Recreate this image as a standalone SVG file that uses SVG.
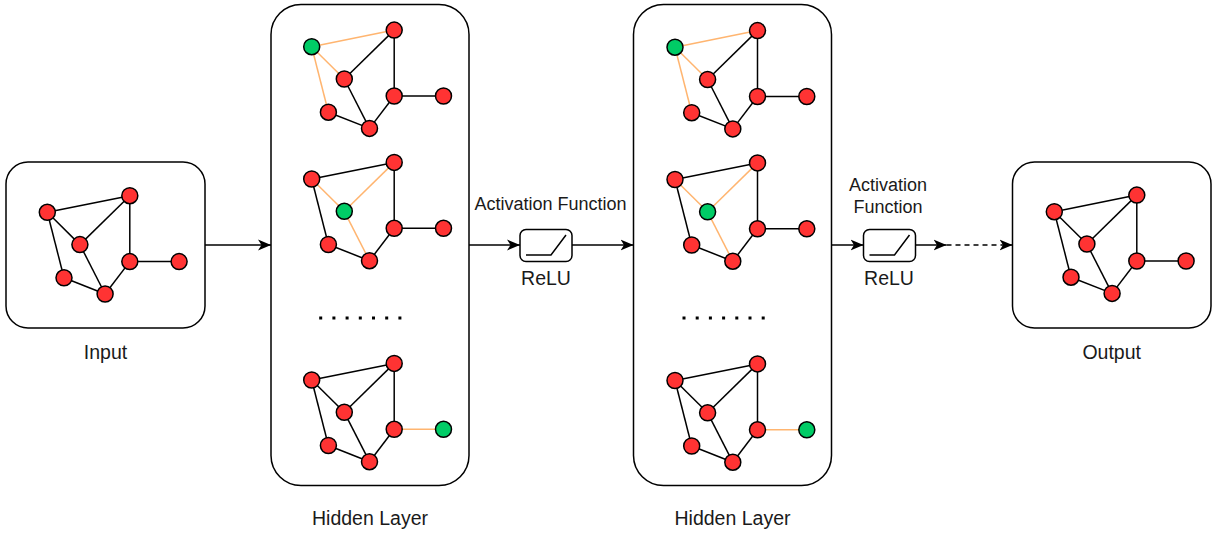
<svg xmlns="http://www.w3.org/2000/svg" width="1225" height="536" viewBox="0 0 1225 536">
<style>
.box{fill:#fff;stroke:#000;stroke-width:1.5}
.e{stroke:#000;stroke-width:1.5;fill:none}
.o{stroke:#FFB570;stroke-width:1.5;fill:none}
.r{fill:#FF3333;stroke:#000;stroke-width:1.5}
.g{fill:#00CC66;stroke:#000;stroke-width:1.5}
.lbl{font-family:"Liberation Sans",Arial,sans-serif;font-size:19.5px;fill:#1a1a1a;text-anchor:middle}
.act{font-family:"Liberation Sans",Arial,sans-serif;font-size:18px;fill:#1a1a1a;text-anchor:middle}
.conn{stroke:#000;stroke-width:1.5;fill:none}
.dot{fill:#000}
</style>
<defs>
<marker id="arr" markerUnits="userSpaceOnUse" markerWidth="14" markerHeight="13" refX="13" refY="6" orient="auto">
<path d="M0,0.5 L13,6 L0,11.5 L3.5,6 Z" fill="#000"/>
</marker>
</defs>

<g id="input">
<rect class="box" x="6" y="162" width="199" height="166" rx="22"/>
<g transform="translate(47.3,212.3)">
<line class="e" x1="0" y1="0" x2="82.5" y2="-16.6"/>
<line class="e" x1="0" y1="0" x2="32.6" y2="32.3"/>
<line class="e" x1="0" y1="0" x2="16.7" y2="65.5"/>
<line class="e" x1="32.6" y1="32.3" x2="82.5" y2="-16.6"/>
<line class="e" x1="32.6" y1="32.3" x2="57.8" y2="81.7"/>
<line class="e" x1="82.5" y1="-16.6" x2="82.5" y2="49.3"/>
<line class="e" x1="82.5" y1="49.3" x2="131.8" y2="49.3"/>
<line class="e" x1="82.5" y1="49.3" x2="57.8" y2="81.7"/>
<line class="e" x1="16.7" y1="65.5" x2="57.8" y2="81.7"/>
<circle class="r" cx="0" cy="0" r="8"/>
<circle class="r" cx="82.5" cy="-16.6" r="8"/>
<circle class="r" cx="32.6" cy="32.3" r="8"/>
<circle class="r" cx="82.5" cy="49.3" r="8"/>
<circle class="r" cx="131.8" cy="49.3" r="8"/>
<circle class="r" cx="16.7" cy="65.5" r="8"/>
<circle class="r" cx="57.8" cy="81.7" r="8"/>
</g>
<text class="lbl" x="105.5" y="359">Input</text>
</g>

<g id="hidden1">
<rect class="box" x="271" y="4.5" width="198" height="481" rx="30"/>
<g transform="translate(311.7,46.7)">
<line class="o" x1="0" y1="0" x2="82.5" y2="-16.6"/>
<line class="o" x1="0" y1="0" x2="32.6" y2="32.3"/>
<line class="o" x1="0" y1="0" x2="16.7" y2="65.5"/>
<line class="e" x1="32.6" y1="32.3" x2="82.5" y2="-16.6"/>
<line class="e" x1="32.6" y1="32.3" x2="57.8" y2="81.7"/>
<line class="e" x1="82.5" y1="-16.6" x2="82.5" y2="49.3"/>
<line class="e" x1="82.5" y1="49.3" x2="131.8" y2="49.3"/>
<line class="e" x1="82.5" y1="49.3" x2="57.8" y2="81.7"/>
<line class="e" x1="16.7" y1="65.5" x2="57.8" y2="81.7"/>
<circle class="g" cx="0" cy="0" r="8"/>
<circle class="r" cx="82.5" cy="-16.6" r="8"/>
<circle class="r" cx="32.6" cy="32.3" r="8"/>
<circle class="r" cx="82.5" cy="49.3" r="8"/>
<circle class="r" cx="131.8" cy="49.3" r="8"/>
<circle class="r" cx="16.7" cy="65.5" r="8"/>
<circle class="r" cx="57.8" cy="81.7" r="8"/>
</g>
<g transform="translate(311.7,179)">
<line class="e" x1="0" y1="0" x2="82.5" y2="-16.6"/>
<line class="o" x1="0" y1="0" x2="32.6" y2="32.3"/>
<line class="e" x1="0" y1="0" x2="16.7" y2="65.5"/>
<line class="o" x1="32.6" y1="32.3" x2="82.5" y2="-16.6"/>
<line class="o" x1="32.6" y1="32.3" x2="57.8" y2="81.7"/>
<line class="e" x1="82.5" y1="-16.6" x2="82.5" y2="49.3"/>
<line class="e" x1="82.5" y1="49.3" x2="131.8" y2="49.3"/>
<line class="e" x1="82.5" y1="49.3" x2="57.8" y2="81.7"/>
<line class="e" x1="16.7" y1="65.5" x2="57.8" y2="81.7"/>
<circle class="r" cx="0" cy="0" r="8"/>
<circle class="r" cx="82.5" cy="-16.6" r="8"/>
<circle class="g" cx="32.6" cy="32.3" r="8"/>
<circle class="r" cx="82.5" cy="49.3" r="8"/>
<circle class="r" cx="131.8" cy="49.3" r="8"/>
<circle class="r" cx="16.7" cy="65.5" r="8"/>
<circle class="r" cx="57.8" cy="81.7" r="8"/>
</g>
<g>
<rect class="dot" x="319.2" y="316.5" width="3" height="3"/>
<rect class="dot" x="332.4" y="316.5" width="3" height="3"/>
<rect class="dot" x="345.6" y="316.5" width="3" height="3"/>
<rect class="dot" x="358.8" y="316.5" width="3" height="3"/>
<rect class="dot" x="372" y="316.5" width="3" height="3"/>
<rect class="dot" x="385.2" y="316.5" width="3" height="3"/>
<rect class="dot" x="398.4" y="316.5" width="3" height="3"/>
</g>
<g transform="translate(311.7,380)">
<line class="e" x1="0" y1="0" x2="82.5" y2="-16.6"/>
<line class="e" x1="0" y1="0" x2="32.6" y2="32.3"/>
<line class="e" x1="0" y1="0" x2="16.7" y2="65.5"/>
<line class="e" x1="32.6" y1="32.3" x2="82.5" y2="-16.6"/>
<line class="e" x1="32.6" y1="32.3" x2="57.8" y2="81.7"/>
<line class="e" x1="82.5" y1="-16.6" x2="82.5" y2="49.3"/>
<line class="o" x1="82.5" y1="49.3" x2="131.8" y2="49.3"/>
<line class="e" x1="82.5" y1="49.3" x2="57.8" y2="81.7"/>
<line class="e" x1="16.7" y1="65.5" x2="57.8" y2="81.7"/>
<circle class="r" cx="0" cy="0" r="8"/>
<circle class="r" cx="82.5" cy="-16.6" r="8"/>
<circle class="r" cx="32.6" cy="32.3" r="8"/>
<circle class="r" cx="82.5" cy="49.3" r="8"/>
<circle class="g" cx="131.8" cy="49.3" r="8"/>
<circle class="r" cx="16.7" cy="65.5" r="8"/>
<circle class="r" cx="57.8" cy="81.7" r="8"/>
</g>
<text class="lbl" x="370" y="525">Hidden Layer</text>
</g>

<g id="hidden2">
<rect class="box" x="633.5" y="4.5" width="198" height="481" rx="30"/>
<g transform="translate(675,47.2)">
<line class="o" x1="0" y1="0" x2="82.5" y2="-16.6"/>
<line class="o" x1="0" y1="0" x2="32.6" y2="32.3"/>
<line class="o" x1="0" y1="0" x2="16.7" y2="65.5"/>
<line class="e" x1="32.6" y1="32.3" x2="82.5" y2="-16.6"/>
<line class="e" x1="32.6" y1="32.3" x2="57.8" y2="81.7"/>
<line class="e" x1="82.5" y1="-16.6" x2="82.5" y2="49.3"/>
<line class="e" x1="82.5" y1="49.3" x2="131.8" y2="49.3"/>
<line class="e" x1="82.5" y1="49.3" x2="57.8" y2="81.7"/>
<line class="e" x1="16.7" y1="65.5" x2="57.8" y2="81.7"/>
<circle class="g" cx="0" cy="0" r="8"/>
<circle class="r" cx="82.5" cy="-16.6" r="8"/>
<circle class="r" cx="32.6" cy="32.3" r="8"/>
<circle class="r" cx="82.5" cy="49.3" r="8"/>
<circle class="r" cx="131.8" cy="49.3" r="8"/>
<circle class="r" cx="16.7" cy="65.5" r="8"/>
<circle class="r" cx="57.8" cy="81.7" r="8"/>
</g>
<g transform="translate(675,179.5)">
<line class="e" x1="0" y1="0" x2="82.5" y2="-16.6"/>
<line class="o" x1="0" y1="0" x2="32.6" y2="32.3"/>
<line class="e" x1="0" y1="0" x2="16.7" y2="65.5"/>
<line class="o" x1="32.6" y1="32.3" x2="82.5" y2="-16.6"/>
<line class="o" x1="32.6" y1="32.3" x2="57.8" y2="81.7"/>
<line class="e" x1="82.5" y1="-16.6" x2="82.5" y2="49.3"/>
<line class="e" x1="82.5" y1="49.3" x2="131.8" y2="49.3"/>
<line class="e" x1="82.5" y1="49.3" x2="57.8" y2="81.7"/>
<line class="e" x1="16.7" y1="65.5" x2="57.8" y2="81.7"/>
<circle class="r" cx="0" cy="0" r="8"/>
<circle class="r" cx="82.5" cy="-16.6" r="8"/>
<circle class="g" cx="32.6" cy="32.3" r="8"/>
<circle class="r" cx="82.5" cy="49.3" r="8"/>
<circle class="r" cx="131.8" cy="49.3" r="8"/>
<circle class="r" cx="16.7" cy="65.5" r="8"/>
<circle class="r" cx="57.8" cy="81.7" r="8"/>
</g>
<g>
<rect class="dot" x="682.5" y="316.5" width="3" height="3"/>
<rect class="dot" x="695.7" y="316.5" width="3" height="3"/>
<rect class="dot" x="708.9" y="316.5" width="3" height="3"/>
<rect class="dot" x="722.1" y="316.5" width="3" height="3"/>
<rect class="dot" x="735.3" y="316.5" width="3" height="3"/>
<rect class="dot" x="748.5" y="316.5" width="3" height="3"/>
<rect class="dot" x="761.7" y="316.5" width="3" height="3"/>
</g>
<g transform="translate(675,380.5)">
<line class="e" x1="0" y1="0" x2="82.5" y2="-16.6"/>
<line class="e" x1="0" y1="0" x2="32.6" y2="32.3"/>
<line class="e" x1="0" y1="0" x2="16.7" y2="65.5"/>
<line class="e" x1="32.6" y1="32.3" x2="82.5" y2="-16.6"/>
<line class="e" x1="32.6" y1="32.3" x2="57.8" y2="81.7"/>
<line class="e" x1="82.5" y1="-16.6" x2="82.5" y2="49.3"/>
<line class="o" x1="82.5" y1="49.3" x2="131.8" y2="49.3"/>
<line class="e" x1="82.5" y1="49.3" x2="57.8" y2="81.7"/>
<line class="e" x1="16.7" y1="65.5" x2="57.8" y2="81.7"/>
<circle class="r" cx="0" cy="0" r="8"/>
<circle class="r" cx="82.5" cy="-16.6" r="8"/>
<circle class="r" cx="32.6" cy="32.3" r="8"/>
<circle class="r" cx="82.5" cy="49.3" r="8"/>
<circle class="g" cx="131.8" cy="49.3" r="8"/>
<circle class="r" cx="16.7" cy="65.5" r="8"/>
<circle class="r" cx="57.8" cy="81.7" r="8"/>
</g>
<text class="lbl" x="732.5" y="525">Hidden Layer</text>
</g>

<g id="output">
<rect class="box" x="1012.5" y="162" width="198.5" height="166" rx="22"/>
<g transform="translate(1054.3,211.7)">
<line class="e" x1="0" y1="0" x2="82.5" y2="-16.6"/>
<line class="e" x1="0" y1="0" x2="32.6" y2="32.3"/>
<line class="e" x1="0" y1="0" x2="16.7" y2="65.5"/>
<line class="e" x1="32.6" y1="32.3" x2="82.5" y2="-16.6"/>
<line class="e" x1="32.6" y1="32.3" x2="57.8" y2="81.7"/>
<line class="e" x1="82.5" y1="-16.6" x2="82.5" y2="49.3"/>
<line class="e" x1="82.5" y1="49.3" x2="131.8" y2="49.3"/>
<line class="e" x1="82.5" y1="49.3" x2="57.8" y2="81.7"/>
<line class="e" x1="16.7" y1="65.5" x2="57.8" y2="81.7"/>
<circle class="r" cx="0" cy="0" r="8"/>
<circle class="r" cx="82.5" cy="-16.6" r="8"/>
<circle class="r" cx="32.6" cy="32.3" r="8"/>
<circle class="r" cx="82.5" cy="49.3" r="8"/>
<circle class="r" cx="131.8" cy="49.3" r="8"/>
<circle class="r" cx="16.7" cy="65.5" r="8"/>
<circle class="r" cx="57.8" cy="81.7" r="8"/>
</g>
<text class="lbl" x="1111.7" y="359">Output</text>
</g>

<g id="relu1">
<rect class="box" x="520" y="229.5" width="52" height="32" rx="6"/>
<polyline class="e" points="526,255 551,255 566,235"/>
<text class="act" x="550.5" y="210">Activation Function</text>
<text class="lbl" x="546" y="285">ReLU</text>
</g>

<g id="relu2">
<rect class="box" x="863.5" y="229.5" width="52" height="32" rx="6"/>
<polyline class="e" points="869.5,255 894.5,255 909.5,235"/>
<text class="act" x="888" y="191">Activation</text>
<text class="act" x="888" y="213">Function</text>
<text class="lbl" x="889" y="285">ReLU</text>
</g>

<g id="connectors">
<line class="conn" x1="205" y1="245" x2="271" y2="245" marker-end="url(#arr)"/>
<line class="conn" x1="469" y1="245" x2="520" y2="245" marker-end="url(#arr)"/>
<line class="conn" x1="572" y1="245" x2="633.5" y2="245" marker-end="url(#arr)"/>
<line class="conn" x1="831.5" y1="245" x2="863.5" y2="245" marker-end="url(#arr)"/>
<line class="conn" x1="915.5" y1="245" x2="946.5" y2="245" marker-end="url(#arr)"/>
<line class="conn" x1="946.5" y1="245" x2="1012.5" y2="245" stroke-dasharray="5 4" marker-end="url(#arr)"/>
</g>
</svg>
